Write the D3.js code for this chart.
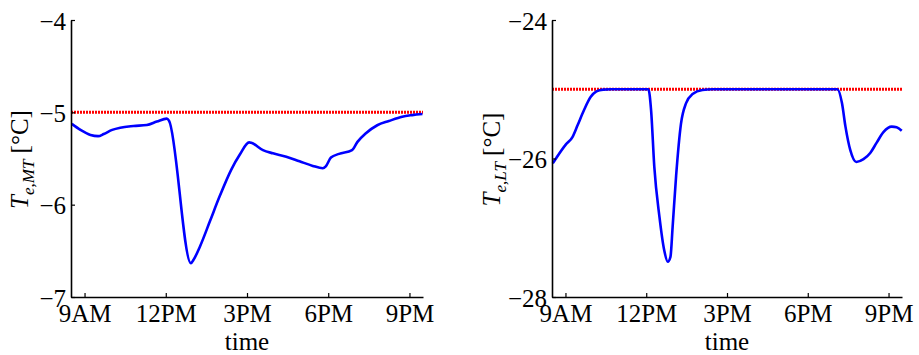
<!DOCTYPE html>
<html>
<head>
<meta charset="utf-8">
<script src="https://cdn.jsdelivr.net/npm/d3@7"></script>
<style>
  body { margin: 0; background: #fff; }
  svg { display: block; }
</style>
</head>
<body>
<svg id="chart" width="919" height="355"></svg>
<script>
// ---- data ----
const xTickValues = [9, 12, 15, 18, 21];
const xTickLabels = ["9AM", "12PM", "3PM", "6PM", "9PM"];
const xDomain = [8.5, 21.5];

// Left panel: T_e,MT
const mtHours = [8.53, 8.85, 9.22, 9.50, 9.71, 10.02, 10.32, 10.81, 11.30, 11.67, 12.04, 12.12,
  12.93, 13.02, 13.26, 13.63, 13.99, 14.42, 14.73, 15.08, 15.16, 15.59, 15.96, 16.45, 16.94,
  17.43, 17.80, 17.91, 18.10, 18.40, 18.88, 19.08, 19.38, 19.81, 20.24, 20.73, 21.10, 21.48];
const mtValues = [-5.125, -5.19, -5.245, -5.258, -5.235, -5.19, -5.166, -5.148, -5.137, -5.10, -5.068, -5.09,
  -6.635, -6.60, -6.455, -6.18, -5.91, -5.62, -5.46, -5.325, -5.33, -5.41, -5.444, -5.48, -5.53,
  -5.58, -5.605, -5.585, -5.49, -5.45, -5.41, -5.32, -5.23, -5.14, -5.094, -5.047, -5.03, -5.018];
const mtLimit = -5;
const mtYTicks = [-4, -5, -6, -7];
const mtYDomain = [-7, -4];

// Right panel: T_e,LT
const ltHours = [8.53, 9.01, 9.26, 9.45, 9.69, 9.94, 10.15, 10.40, 10.70, 12.08, 12.18, 12.30,
  12.49, 12.67, 12.80, 12.90, 12.98, 13.11, 13.29, 13.48, 13.72, 14.09, 14.46, 19.10, 19.27,
  19.40, 19.58, 19.80, 20.07, 20.32, 20.56, 20.81, 21.12, 21.30, 21.49];
const ltValues = [-26.07, -25.80, -25.69, -25.52, -25.30, -25.11, -25.03, -25.005, -25.0, -25.0, -25.30, -26.12,
  -26.84, -27.33, -27.49, -27.42, -26.99, -26.25, -25.50, -25.20, -25.07, -25.01, -25.0, -25.0, -25.20,
  -25.54, -25.88, -26.05, -26.01, -25.92, -25.77, -25.62, -25.54, -25.55, -25.60];
const ltLimit = -25;
const ltYTicks = [-24, -26, -28];
const ltYDomain = [-28, -24];

// ---- drawing ----
const svg = d3.select("#chart");
const FS = 25;
const SERIF = '"Liberation Serif"';

function panel(cfg) {
  const x = d3.scaleLinear().domain(xDomain).range([cfg.left, cfg.right]);
  const y = d3.scaleLinear().domain(cfg.yDomain).range([cfg.bottom, cfg.top]);
  const g = svg.append("g");

  // reference (limit) line
  g.append("path")
    .datum(xDomain.map(h => [h, cfg.limit]))
    .attr("d", d3.line().x(d => x(d[0])).y(d => y(d[1])))
    .attr("fill", "none")
    .attr("stroke", "#ff0000")
    .attr("stroke-width", 3)
    .attr("stroke-dasharray", "2,1");

  // series
  const pts = cfg.hours.map((h, i) => [h, cfg.values[i]]);
  g.append("path")
    .datum(pts)
    .attr("d", d3.line().x(d => x(d[0])).y(d => y(d[1])).curve(d3.curveMonotoneX))
    .attr("fill", "none")
    .attr("stroke", "#0000ff")
    .attr("stroke-width", 2.6)
    .attr("stroke-linejoin", "round");

  // x axis
  const xa = g.append("g").attr("transform", `translate(0,${cfg.bottom})`)
    .call(d3.axisBottom(x).tickValues(xTickValues)
      .tickFormat((d, i) => xTickLabels[i]).tickSizeInner(-4).tickSizeOuter(0));
  xa.selectAll("text").attr("dy", null).attr("y", 25)
    .style("font-family", SERIF).style("font-size", FS + "px").style("fill", "#000");
  // y axis
  const ya = g.append("g").attr("transform", `translate(${cfg.left},0)`)
    .call(d3.axisLeft(y).tickValues(cfg.yTicks).tickFormat(d3.format("d"))
      .tickSizeInner(-4).tickSizeOuter(0).tickPadding(5));
  ya.selectAll("text").attr("dy", "0.36em")
    .style("font-family", SERIF).style("font-size", FS + "px").style("fill", "#000");
  g.selectAll(".domain").attr("stroke", "#000").attr("stroke-width", 1.6);
  g.selectAll(".tick line").attr("stroke", "#000").attr("stroke-width", 1.2);

  // x label
  g.append("text")
    .attr("x", (cfg.left + cfg.right) / 2)
    .attr("y", 350)
    .attr("text-anchor", "middle")
    .style("font-family", SERIF).style("font-size", FS + "px")
    .text("time");

  // y label
  const yl = g.append("text")
    .attr("transform", `translate(${cfg.labelX},${(cfg.top + cfg.bottom) / 2 + 1}) rotate(-90)`)
    .attr("text-anchor", "middle")
    .style("font-family", SERIF).style("font-size", FS + "px");
  yl.append("tspan").style("font-style", "italic").text("T");
  yl.append("tspan").style("font-style", "italic").style("font-size", "17px").attr("dy", 6).text(cfg.sub);
  yl.append("tspan").attr("dy", -6).text(" [°C]");
}

panel({ left: 71, right: 423, top: 20, bottom: 297, yDomain: mtYDomain, yTicks: mtYTicks,
  hours: mtHours, values: mtValues, limit: mtLimit, labelX: 28, sub: "e,MT" });
panel({ left: 552, right: 902, top: 20, bottom: 297, yDomain: ltYDomain, yTicks: ltYTicks,
  hours: ltHours, values: ltValues, limit: ltLimit, labelX: 500, sub: "e,LT" });
</script>
</body>
</html>
